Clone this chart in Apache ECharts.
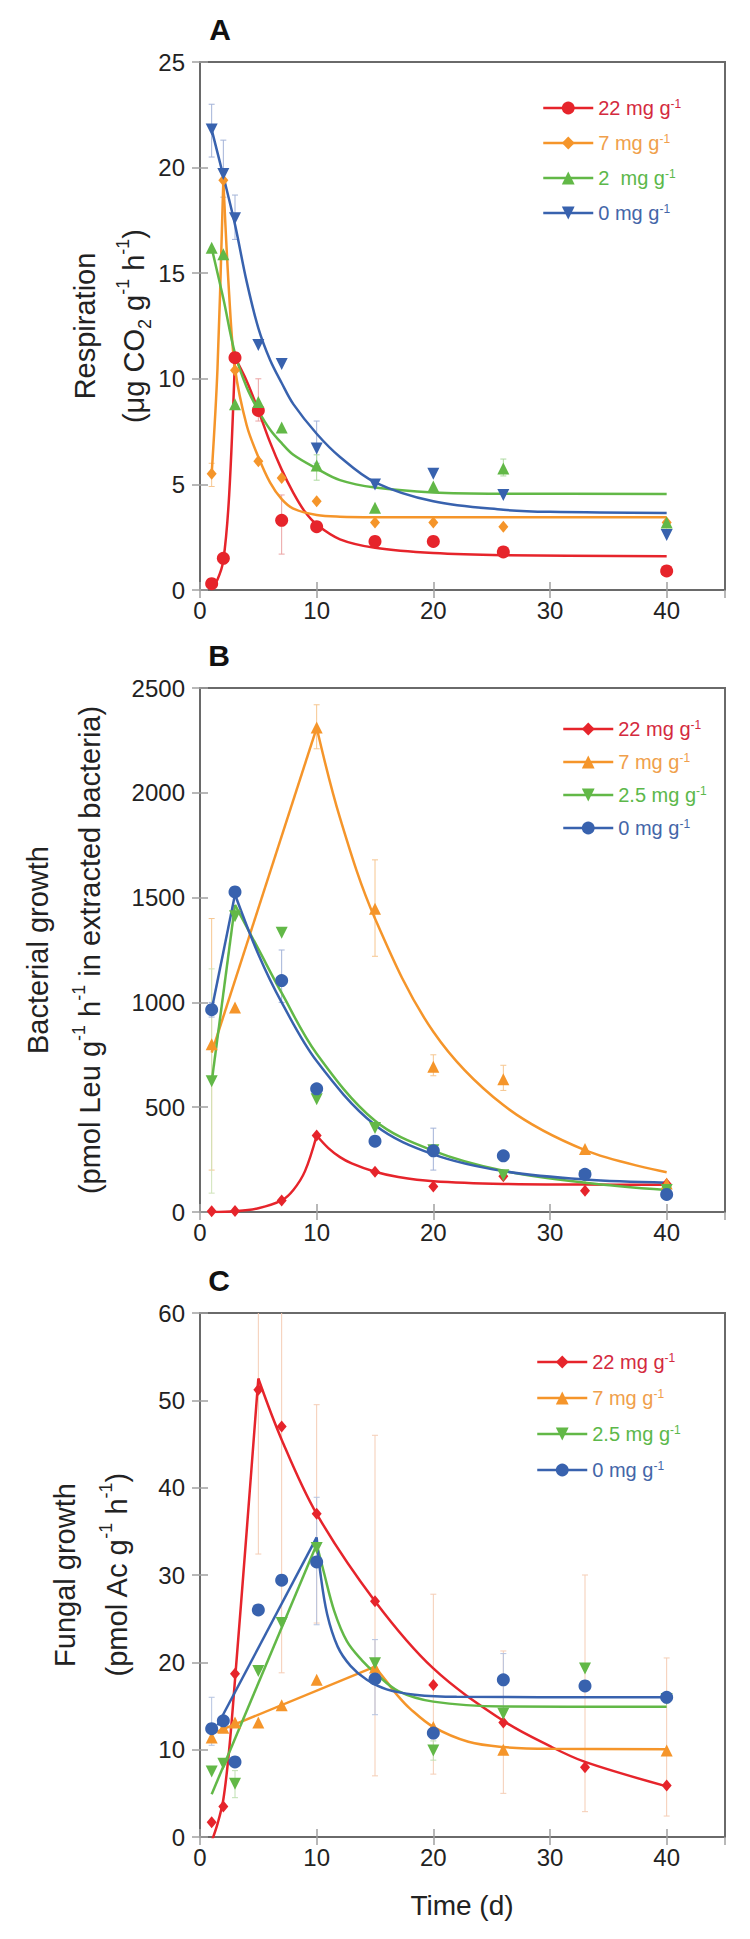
<!DOCTYPE html>
<html>
<head>
<meta charset="utf-8">
<title>Respiration, bacterial growth and fungal growth</title>
<script src="https://cdn.jsdelivr.net/npm/echarts@6/dist/echarts.min.js"></script>
<style>
html, body { margin: 0; padding: 0; background: #fff; }
#chart { width: 750px; height: 1939px; }
</style>
</head>
<body>
<div id="chart"></div>
<script>
// ---- A: respiration (ug CO2 g-1 h-1) ----
var daysA = [1, 2, 3, 5, 7, 10, 15, 20, 26, 40];
var respA22 = [0.3, 1.5, 11.0, 8.5, 3.3, 3.0, 2.3, 2.3, 1.8, 0.9];
var respA7 = [5.5, 19.4, 10.4, 6.1, 5.3, 4.2, 3.2, 3.2, 3.0, 3.2];
var respA2 = [16.2, 15.9, 8.8, 8.9, 7.7, 5.9, 3.9, 4.9, 5.75, 3.2];
var respA0 = [21.8, 19.7, 17.6, 11.6, 10.7, 6.7, 5.0, 5.5, 4.5, 2.6];

// fitted curves
var fitA22up = [[1, 0.15], [1.5, 0.5], [2, 1.4], [2.5, 4.5], [3, 11]];
var fitA22down = [[3, 11], [4, 9.9], [5, 8.5], [6, 7.0], [7, 5.7], [8, 4.6], [9, 3.7], [10, 3.1], [12, 2.4], [15, 2.0], [20, 1.75], [26, 1.65], [40, 1.6]];
var fitA7up = [[1, 5.5], [1.5, 10.5], [2, 19.4]];
var fitA7down = [[2, 19.4], [2.5, 14.0], [3, 10.5], [4, 7.8], [5, 6.3], [6, 5.1], [7, 4.3], [8, 3.85], [10, 3.55], [12, 3.47], [15, 3.45], [40, 3.45]];
var fitA2 = [[1, 16.2], [2, 13.8], [3, 11.2], [4, 9.6], [5, 8.5], [6, 7.6], [7, 6.95], [8, 6.4], [10, 5.75], [12, 5.2], [15, 4.85], [20, 4.62], [26, 4.56], [40, 4.55]];
var fitA0 = [[1, 21.8], [2, 19.6], [3, 17.3], [4, 14.6], [5, 12.4], [6, 10.9], [7, 9.8], [8, 8.8], [10, 7.4], [12, 6.3], [15, 5.1], [20, 4.2], [26, 3.8], [30, 3.7], [40, 3.65]];

// error bars [day, low, high]
var errA0 = [[1, 20.5, 23.0], [2, 18.6, 21.3], [3, 16.6, 18.7], [10, 6.0, 8.0]];
var errA22 = [[5, 8.0, 10.0], [7, 1.7, 4.5]];
var errA2 = [[10, 5.2, 6.4], [26, 5.4, 6.2]];
var errA7 = [[1, 4.9, 6.0]];

// ---- B: bacterial growth (pmol Leu g-1 h-1) ----
var daysB = [1, 3, 7, 10, 15, 20, 26, 33, 40];
var bactB22 = [3, 5, 55, 365, 192, 122, 170, 101, 133];
var bactB7 = [800, 976, null, 2312, 1447, 693, 633, 300, 136];
var bactB25 = [624, 1411, 1332, 538, 401, 295, 175, 170, 105];
var bactB0 = [965, 1527, 1104, 588, 338, 292, 268, 180, 84];

var fitB22up = [[1, 0], [3, 4], [5, 18], [7, 55], [8, 105], [9, 195], [10, 365]];
var fitB22down = [[10, 365], [11, 305], [12, 262], [13, 232], [15, 192], [17, 167], [20, 147], [26, 134], [33, 131], [40, 130]];
var fitB7up = [[1, 760], [10, 2310]];
var fitB7down = [[10, 2310], [12, 1880], [15, 1400], [20, 860], [26, 510], [33, 295], [40, 190]];
var fitB25up = [[1, 620], [3, 1465]];
var fitB25down = [[3, 1465], [5, 1255], [7, 1045], [10, 755], [15, 435], [20, 292], [26, 197], [33, 140], [40, 105]];
var fitB0up = [[1, 965], [3, 1515]];
var fitB0down = [[3, 1515], [5, 1230], [7, 1000], [10, 720], [15, 415], [20, 275], [26, 195], [33, 155], [40, 140]];

var errB7 = [[1, 200, 1400], [10, 2210, 2420], [15, 1220, 1680], [20, 650, 750], [26, 580, 700]];
var errB25 = [[1, 90, 1160]];
var errB0 = [[1, 930, 1000], [7, 1000, 1250], [20, 200, 400]];

// ---- C: fungal growth (pmol Ac g-1 h-1) ----
var daysC = [1, 2, 3, 5, 7, 10, 15, 20, 26, 33, 40];
var fungC22 = [1.7, 3.5, 18.7, 51.2, 47.0, 37.0, 27.0, 17.4, 13.1, 8.0, 5.9];
var fungC7 = [11.4, 12.5, 13.1, 13.1, 15.1, 18.0, 19.4, 12.6, 10.0, null, 9.9];
var fungC25 = [7.5, 8.4, 6.1, 19.0, 24.5, 33.1, 19.9, 9.9, 14.1, 19.3, 15.8];
var fungC0 = [12.4, 13.3, 8.6, 26.0, 29.4, 31.5, 18.1, 11.9, 18.0, 17.3, 16.0];

var fitC22up = [[1, -0.5], [1.5, 1.5], [2, 4.3], [2.5, 10], [3, 18], [4, 35], [5, 52.5]];
var fitC22down = [[5, 52.5], [7, 45.5], [10, 37], [15, 27], [20, 19.3], [26, 13.3], [30, 10.4], [33, 8.6], [40, 5.8]];
var fitC7up = [[1, 11.8], [15, 19.5]];
var fitC7down = [[15, 19.5], [16, 17.8], [17, 16.1], [18, 14.7], [20, 12.6], [23, 10.9], [26, 10.3], [30, 10.1], [40, 10.05]];
var fitC25up = [[1, 4.9], [10, 33.5]];
var fitC25down = [[10, 33.5], [10.6, 30.4], [11.5, 25.9], [12.6, 22.4], [13.9, 20.2], [15, 18.8], [17, 16.7], [20, 15.5], [26, 14.95], [40, 14.9]];
var fitC0up = [[1.5, 12.8], [10, 34.3]];
var fitC0down = [[10, 34.3], [10.3, 30.4], [10.9, 25.5], [11.8, 21.8], [12.9, 19.6], [14.3, 18.0], [16, 16.9], [18.4, 16.3], [22, 16.05], [40, 16.0]];

var errC22 = [[5, 32.4, 62], [7, 18.8, 62], [10, 24.5, 49.5], [15, 7, 46], [20, 7.2, 27.8], [26, 5, 21.3], [33, 2.9, 30], [40, 2.4, 20.5]];
var errC0 = [[1, 10.5, 16], [10, 24.3, 38.9], [15, 14, 22.6], [26, 14.5, 21]];
var errC25 = [[3, 4.5, 7.6], [20, 8.8, 11]];

var xTicks = [0, 10, 20, 30, 40];

var FONT = '"Liberation Sans", Arial, Helvetica, sans-serif';
var RED = '#e6242b', ORANGE = '#f5952a', GREEN = '#62b847', BLUE = '#3862ae';
var TXT = { r: '#d42a3e', o: '#f0a04b', g: '#5cb84a', b: '#4466a8' };

var legendLabel = {
    A22: '22 mg g', A7: '7 mg g', A2: '2  mg g', A0: '0 mg g',
    B22: '22 mg g', B7: '7 mg g', B25: '2.5 mg g', B0: '0 mg g',
    C22: '22 mg g', C7: '7 mg g', C25: '2.5 mg g', C0: '0 mg g'
};
var legendKey = {
    A22: 'r', A7: 'o', A2: 'g', A0: 'b', B22: 'r', B7: 'o', B25: 'g', B0: 'b',
    C22: 'r', C7: 'o', C25: 'g', C0: 'b'
};

function pts(days, vals) {
    var out = [];
    for (var i = 0; i < days.length; i++) {
        if (vals[i] != null) out.push([days[i], vals[i]]);
    }
    return out;
}

function pointSeries(name, idx, data, color, symbol, size, rotate) {
    return {
        name: name, type: 'line', xAxisIndex: idx, yAxisIndex: idx, data: data,
        color: color, symbol: symbol, symbolSize: size, symbolRotate: rotate || 0,
        showSymbol: true, clip: false,
        lineStyle: { color: color, width: 2.5, opacity: 0 },
        itemStyle: { color: color, opacity: 1 },
        z: 5, silent: true
    };
}

function fitSeries(idx, data, color) {
    return {
        type: 'line', xAxisIndex: idx, yAxisIndex: idx, data: data,
        symbol: 'none', smooth: 0.35, clip: true,
        lineStyle: { color: color, width: 2.5 },
        z: 3, silent: true
    };
}

function errSeries(idx, data, color) {
    return {
        type: 'custom', xAxisIndex: idx, yAxisIndex: idx, data: data, z: 1,
        silent: true, clip: true, encode: { x: 0, y: [1, 2] },
        itemStyle: { color: color },
        renderItem: function (params, api) {
            var x = api.value(0);
            var top = api.coord([x, api.value(2)]);
            var bot = api.coord([x, api.value(1)]);
            var st = { stroke: api.visual('color'), lineWidth: 1 };
            return {
                type: 'group', children: [
                    { type: 'line', shape: { x1: top[0], y1: top[1], x2: bot[0], y2: bot[1] }, style: st },
                    { type: 'line', shape: { x1: top[0] - 3, y1: top[1], x2: top[0] + 3, y2: top[1] }, style: st },
                    { type: 'line', shape: { x1: bot[0] - 3, y1: bot[1], x2: bot[0] + 3, y2: bot[1] }, style: st }
                ]
            };
        }
    };
}

function legendRich() {
    var rich = {};
    for (var k in TXT) {
        rich[k + 'm'] = { color: TXT[k], fontSize: 20, lineHeight: 20, fontFamily: FONT };
        rich[k + 's'] = { color: TXT[k], fontSize: 12, verticalAlign: 'top', fontFamily: FONT };
    }
    return rich;
}

function makeLegend(names, left, top, gap) {
    return {
        orient: 'vertical', left: left, top: top, padding: 0,
        itemWidth: 50, itemHeight: 16, itemGap: gap, selectedMode: false,
        data: names,
        lineStyle: { width: 2.5, opacity: 1 },
        formatter: function (n) {
            var k = legendKey[n];
            return '{' + k + 'm|' + legendLabel[n] + '}{' + k + 's|-1}';
        },
        textStyle: { fontSize: 20, fontFamily: FONT, rich: legendRich() }
    };
}

var grids = [
    { left: 200, top: 62, width: 525, height: 528 },
    { left: 200, top: 688, width: 525, height: 524 },
    { left: 200, top: 1313, width: 525, height: 524 }
];
var yMax = [25, 2500, 60];
var yStep = [5, 500, 10];

var xAxes = [], yAxes = [];
var tick = { inside: true, length: 8, lineStyle: { color: '#a0a0a0', width: 1.5 } };
for (var i = 0; i < 3; i++) {
    grids[i].show = true;
    grids[i].borderColor = '#6a6a6a';
    grids[i].borderWidth = 2;
    xAxes.push({
        gridIndex: i, type: 'value', min: 0, max: 45, interval: 10, position: 'bottom',
        axisLine: { show: false }, axisTick: tick, splitLine: { show: false },
        axisLabel: {
            margin: 8, fontSize: 24, color: '#222', fontFamily: FONT, showMaxLabel: false,
            formatter: function (v) { return xTicks.indexOf(v) >= 0 ? String(v) : ''; }
        }
    });
    yAxes.push({
        gridIndex: i, type: 'value', min: 0, max: yMax[i], interval: yStep[i], position: 'left',
        axisLine: { show: false }, axisTick: tick, splitLine: { show: false },
        axisLabel: {
            margin: 15, fontSize: 24, color: '#222', fontFamily: FONT,
            formatter: function (v) { return String(v); }
        }
    });
}
for (var j = 0; j < 3; j++) {
    xAxes.push({
        gridIndex: j, type: 'value', min: 0, max: 45, interval: 10, position: 'top',
        axisLine: { show: false }, axisTick: tick, axisLabel: { show: false }, splitLine: { show: false }
    });
    yAxes.push({
        gridIndex: j, type: 'value', min: 0, max: yMax[j], interval: yStep[j], position: 'right',
        axisLine: { show: false }, axisTick: tick, axisLabel: { show: false }, splitLine: { show: false }
    });
}

var series = [
    // A
    errSeries(0, errA0, '#a3b3d8'), errSeries(0, errA22, '#eba3a3'),
    errSeries(0, errA2, '#acd99e'), errSeries(0, errA7, '#f6c690'),
    fitSeries(0, fitA22up, RED), fitSeries(0, fitA22down, RED),
    fitSeries(0, fitA7up, ORANGE), fitSeries(0, fitA7down, ORANGE),
    fitSeries(0, fitA2, GREEN), fitSeries(0, fitA0, BLUE),
    pointSeries('A22', 0, pts(daysA, respA22), RED, 'circle', 13),
    pointSeries('A7', 0, pts(daysA, respA7), ORANGE, 'diamond', [10, 12]),
    pointSeries('A2', 0, pts(daysA, respA2), GREEN, 'triangle', 12),
    pointSeries('A0', 0, pts(daysA, respA0), BLUE, 'triangle', 12, 180),
    // B
    errSeries(1, errB7, '#f6c690'), errSeries(1, errB25, '#cfe3b8'), errSeries(1, errB0, '#a3b3d8'),
    fitSeries(1, fitB22up, RED), fitSeries(1, fitB22down, RED),
    fitSeries(1, fitB7up, ORANGE), fitSeries(1, fitB7down, ORANGE),
    fitSeries(1, fitB25up, GREEN), fitSeries(1, fitB25down, GREEN),
    fitSeries(1, fitB0up, BLUE), fitSeries(1, fitB0down, BLUE),
    pointSeries('B22', 1, pts(daysB, bactB22), RED, 'diamond', [10, 12]),
    pointSeries('B7', 1, pts(daysB, bactB7), ORANGE, 'triangle', 12),
    pointSeries('B25', 1, pts(daysB, bactB25), GREEN, 'triangle', 12, 180),
    pointSeries('B0', 1, pts(daysB, bactB0), BLUE, 'circle', 13),
    // C
    errSeries(2, errC22, '#f5cdb5'), errSeries(2, errC0, '#b5c3e0'), errSeries(2, errC25, '#bfe0b2'),
    fitSeries(2, fitC22up, RED), fitSeries(2, fitC22down, RED),
    fitSeries(2, fitC7up, ORANGE), fitSeries(2, fitC7down, ORANGE),
    fitSeries(2, fitC25up, GREEN), fitSeries(2, fitC25down, GREEN),
    fitSeries(2, fitC0up, BLUE), fitSeries(2, fitC0down, BLUE),
    pointSeries('C22', 2, pts(daysC, fungC22), RED, 'diamond', [10, 12]),
    pointSeries('C7', 2, pts(daysC, fungC7), ORANGE, 'triangle', 12),
    pointSeries('C25', 2, pts(daysC, fungC25), GREEN, 'triangle', 12, 180),
    pointSeries('C0', 2, pts(daysC, fungC0), BLUE, 'circle', 13)
];

var titleFont = { fontSize: 29, fontFamily: FONT, fill: '#222', align: 'center', verticalAlign: 'middle' };
var titleRich = {
    p: { fontSize: 29, lineHeight: 40, fontFamily: FONT, fill: '#222' },
    sb: { fontSize: 18, verticalAlign: 'bottom', fontFamily: FONT, fill: '#222' },
    sp: { fontSize: 18, verticalAlign: 'top', fontFamily: FONT, fill: '#222' }
};
function vText(x, y, text) {
    return { type: 'text', x: x, y: y, rotation: Math.PI / 2, silent: true,
        style: Object.assign({ text: text }, titleFont) };
}
function vRich(x, y, text) {
    return { type: 'text', x: x, y: y, rotation: Math.PI / 2, silent: true,
        style: Object.assign({ text: text, rich: titleRich }, titleFont) };
}
function letter(x, y, t) {
    return { type: 'text', x: x, y: y, silent: true,
        style: { text: t, fontSize: 30, fontWeight: 'bold', fontFamily: FONT, fill: '#111', align: 'center', verticalAlign: 'middle' } };
}

var chart = echarts.init(document.getElementById('chart'), null, { renderer: 'svg' });
chart.setOption({
    animation: false,
    textStyle: { fontFamily: FONT },
    grid: grids,
    xAxis: xAxes,
    yAxis: yAxes,
    legend: [
        makeLegend(['A22', 'A7', 'A2', 'A0'], 542, 98, 15),
        makeLegend(['B22', 'B7', 'B25', 'B0'], 562, 719, 13),
        makeLegend(['C22', 'C7', 'C25', 'C0'], 536, 1352, 16)
    ],
    graphic: [
        letter(220, 29, 'A'), letter(219, 655, 'B'), letter(219, 1280, 'C'),
        vText(85, 326, 'Respiration'),
        vRich(134, 326, '{p|(\u03bcg CO}{sb|2}{p| g}{sp|-1}{p| h}{sp|-1}{p|)}'),
        vText(38, 950, 'Bacterial growth'),
        vRich(90, 950, '{p|(pmol Leu g}{sp|-1}{p| h}{sp|-1}{p| in extracted bacteria)}'),
        vText(65, 1575, 'Fungal growth'),
        vRich(117, 1575, '{p|(pmol Ac g}{sp|-1}{p| h}{sp|-1}{p|)}'),
        { type: 'text', x: 462, y: 1905, silent: true,
          style: { text: 'Time (d)', fontSize: 28, fontFamily: FONT, fill: '#222', align: 'center', verticalAlign: 'middle' } }
    ],
    series: series
});
</script>
</body>
</html>
